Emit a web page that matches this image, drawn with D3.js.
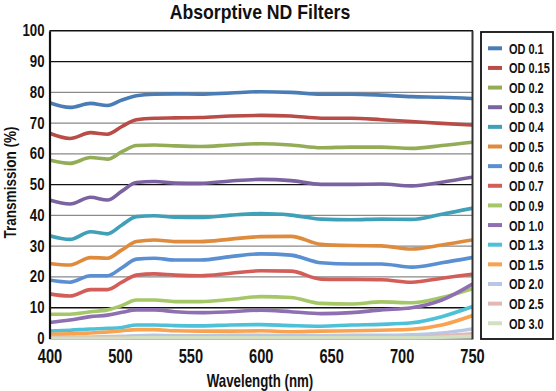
<!DOCTYPE html>
<html>
<head>
<meta charset="utf-8">
<script src="https://cdn.jsdelivr.net/npm/d3@7"></script>
<style>
  html, body { margin: 0; padding: 0; background: #fff; }
  svg { display: block; }
  text { font-family: "Liberation Sans", Arial, sans-serif; fill: #111; }
</style>
</head>
<body>
<svg id="chart" width="556" height="391"></svg>
<script>
// ---- data ----
const wavelengths = [400, 417, 434, 448, 460, 472, 487, 504, 525, 550, 575, 600, 625, 650, 675, 700, 725, 750];
const seriesNames = ["OD 0.1", "OD 0.15", "OD 0.2", "OD 0.3", "OD 0.4", "OD 0.5", "OD 0.6", "OD 0.7", "OD 0.9", "OD 1.0", "OD 1.3", "OD 1.5", "OD 2.0", "OD 2.5", "OD 3.0"];
const od01  = [76.6, 75.1, 76.4, 75.7, 77.5, 78.9, 79.4, 79.5, 79.4, 79.8, 80.2, 80.0, 79.4, 79.4, 79.1, 78.6, 78.4, 78.0];
const od015 = [66.7, 65.0, 66.9, 66.4, 68.9, 71.1, 71.6, 71.7, 71.8, 72.3, 72.5, 72.3, 71.6, 71.6, 71.1, 70.5, 69.9, 69.4];
const od02  = [58.0, 56.9, 58.8, 58.3, 60.7, 62.7, 62.9, 62.6, 62.4, 62.9, 63.3, 62.9, 62.0, 62.2, 62.2, 61.8, 62.7, 63.8];
const od03  = [45.0, 43.7, 45.9, 45.0, 47.9, 50.7, 51.0, 50.5, 50.4, 51.2, 51.7, 51.3, 50.1, 50.1, 50.2, 49.6, 50.8, 52.4];
const od04  = [33.4, 32.2, 34.7, 34.0, 36.9, 39.6, 39.9, 39.4, 39.3, 40.1, 40.6, 40.1, 38.8, 38.6, 38.8, 38.7, 40.4, 42.3];
const od05  = [24.4, 23.9, 26.3, 26.1, 28.8, 31.5, 32.0, 31.5, 31.5, 32.3, 33.1, 33.2, 30.6, 30.2, 30.1, 29.1, 30.4, 32.0];
const od06  = [19.0, 18.3, 20.4, 20.4, 23.0, 25.8, 26.1, 25.5, 25.5, 26.6, 27.5, 27.1, 24.6, 24.2, 24.2, 23.2, 24.6, 26.3];
const od07  = [14.5, 13.8, 15.9, 15.9, 18.3, 20.6, 21.0, 20.6, 20.4, 21.2, 22.0, 21.9, 19.3, 19.2, 19.1, 18.3, 19.6, 20.9];
const od09  = [7.9, 7.9, 8.7, 9.3, 10.7, 12.5, 12.5, 12.0, 12.0, 12.7, 13.6, 13.3, 11.4, 11.2, 11.9, 11.6, 13.3, 16.1];
const od10  = [5.2, 6.0, 7.1, 7.6, 8.5, 9.3, 9.3, 8.7, 8.4, 8.7, 9.2, 8.7, 8.1, 8.4, 9.3, 10.0, 12.5, 17.6];
const od13  = [2.4, 2.7, 3.1, 3.3, 3.6, 4.4, 4.4, 4.2, 4.1, 4.4, 4.5, 4.2, 4.0, 4.4, 4.6, 5.1, 7.1, 10.3];
const od15  = [1.4, 1.5, 1.8, 2.1, 2.5, 2.9, 2.9, 2.5, 2.4, 2.4, 2.5, 2.2, 2.4, 2.5, 2.7, 3.0, 4.4, 7.4];
const od20  = [0.4, 0.4, 0.5, 0.6, 0.7, 0.9, 1.0, 0.9, 0.9, 1.0, 1.0, 0.9, 0.9, 1.0, 1.0, 1.2, 1.8, 3.1];
const od25  = [0.2, 0.2, 0.2, 0.3, 0.3, 0.4, 0.4, 0.4, 0.4, 0.4, 0.4, 0.4, 0.4, 0.4, 0.4, 0.5, 0.8, 1.5];
const od30  = [0.1, 0.1, 0.1, 0.1, 0.1, 0.2, 0.2, 0.2, 0.2, 0.2, 0.2, 0.2, 0.2, 0.2, 0.2, 0.2, 0.4, 0.7];
const seriesValues = [od01, od015, od02, od03, od04, od05, od06, od07, od09, od10, od13, od15, od20, od25, od30];
const seriesColors = ["#4a7db6", "#b84c47", "#93ad57", "#7b62a1", "#3fa0b7", "#df8b3e", "#5a8fd1", "#d35d59", "#a6c767", "#8d6fb2", "#4ec0d8", "#f9a24f", "#b8c8e3", "#e2b8b6", "#d2e0c1"];
const xTickLabels = ["400", "500", "550", "600", "650", "700", "750"];
const yTicks = [0, 10, 20, 30, 40, 50, 60, 70, 80, 90, 100];
const darkGrid = [10, 50, 90];

// ---- helpers ----
// measure at regular weight, then draw bold condensed to that width * k
function squeeze(sel, k, weight) {
  sel.each(function () {
    const t = d3.select(this).attr("font-weight", "normal");
    const w = this.getComputedTextLength();
    t.attr("font-weight", weight || "bold")
     .attr("textLength", w * k).attr("lengthAdjust", "spacingAndGlyphs");
  });
}

// ---- layout ----
const svg = d3.select("#chart");
const L = 49.5, R = 472, T = 30.8, B = 338.5;

const x = d3.scaleLinear().domain([400, 750]).range([L, R]);
const xLab = d3.scalePoint().domain(xTickLabels).range([L, R]);
const y = d3.scaleLinear().domain([0, 100]).range([B, T]);

// gridlines
svg.append("g").selectAll("line")
  .data(yTicks.filter(d => d > 0 && d < 100))
  .join("line")
  .attr("x1", L).attr("x2", R)
  .attr("y1", d => y(d)).attr("y2", d => y(d))
  .attr("stroke", d => darkGrid.includes(d) ? "#111" : "#8a8a8a")
  .attr("stroke-width", 1.3);

// baseline
svg.append("line")
  .attr("x1", L).attr("x2", R).attr("y1", B).attr("y2", B)
  .attr("stroke", "#8c8c8c").attr("stroke-width", 2.5);

// clip
svg.append("clipPath").attr("id", "clip")
  .append("rect").attr("x", L).attr("y", T - 2).attr("width", R - L).attr("height", B - T + 3);

// lines
const line = d3.line()
  .x((d, i) => x(wavelengths[i]))
  .y(d => y(d))
  .curve(d3.curveMonotoneX);

svg.append("g").attr("clip-path", "url(#clip)")
  .selectAll("path")
  .data(seriesValues)
  .join("path")
  .attr("d", d => line(d))
  .attr("fill", "none")
  .attr("stroke", (d, i) => seriesColors[i])
  .attr("stroke-width", 3.6)
  .attr("stroke-linejoin", "round")
  .attr("stroke-linecap", "round");

// frame: top, right
svg.append("line").attr("x1", L).attr("x2", R + 1).attr("y1", T).attr("y2", T)
  .attr("stroke", "#111").attr("stroke-width", 1.5);
svg.append("line").attr("x1", R + 0.5).attr("x2", R + 0.5).attr("y1", T).attr("y2", B + 1)
  .attr("stroke", "#333").attr("stroke-width", 2);

// y axis
const yAxis = d3.axisLeft(y).tickValues(yTicks).tickSize(0).tickPadding(5).tickFormat(d3.format("d"));
const gy = svg.append("g").attr("transform", `translate(${L},0)`).call(yAxis);
gy.select(".domain").attr("stroke", "#111").attr("stroke-width", 2.2);
gy.selectAll("text").attr("font-size", 16.5).attr("fill", "#111")
  .attr("font-family", null).attr("dy", "0.3em");
squeeze(gy.selectAll("text"), 0.8);

// x axis
const xAxis = d3.axisBottom(xLab).tickSize(0).tickPadding(0);
const gx = svg.append("g").attr("transform", `translate(0,${B})`).call(xAxis);
gx.select(".domain").remove();
gx.selectAll("text").attr("font-size", 20).attr("fill", "#111").attr("font-family", null)
  .attr("y", 24.5).attr("dy", null);
squeeze(gx.selectAll("text"), 0.73);

// title
const title = svg.append("text").attr("x", 260).attr("y", 18.7).attr("text-anchor", "middle")
  .attr("font-size", 21)
  .text("Absorptive ND Filters");
squeeze(title, 0.91);

// axis titles
const xt = svg.append("text").attr("x", 260).attr("y", 386.7).attr("text-anchor", "middle")
  .attr("font-size", 19).text("Wavelength (nm)");
squeeze(xt, 0.74);
const yt = svg.append("text").attr("transform", "translate(15.5,182.5) rotate(-90)").attr("text-anchor", "middle")
  .attr("font-size", 17).text("Transmission (%)");
squeeze(yt, 0.85);

// legend
const lg = svg.append("g");
lg.append("rect").attr("x", 481).attr("y", 32).attr("width", 72).attr("height", 307)
  .attr("fill", "#fff").attr("stroke", "#111").attr("stroke-width", 1.8);
const items = lg.selectAll("g.item").data(seriesNames).join("g")
  .attr("class", "item")
  .attr("transform", (d, i) => `translate(0,${48.3 + i * 19.64})`);
items.append("line").attr("x1", 488).attr("x2", 502).attr("y1", 0).attr("y2", 0)
  .attr("stroke", (d, i) => seriesColors[i]).attr("stroke-width", 4);
const lt = items.append("text").attr("x", 509).attr("y", 0).attr("dy", "0.36em")
  .attr("font-size", 15.2).text(d => d);
squeeze(lt, 0.72);
</script>
</body>
</html>
